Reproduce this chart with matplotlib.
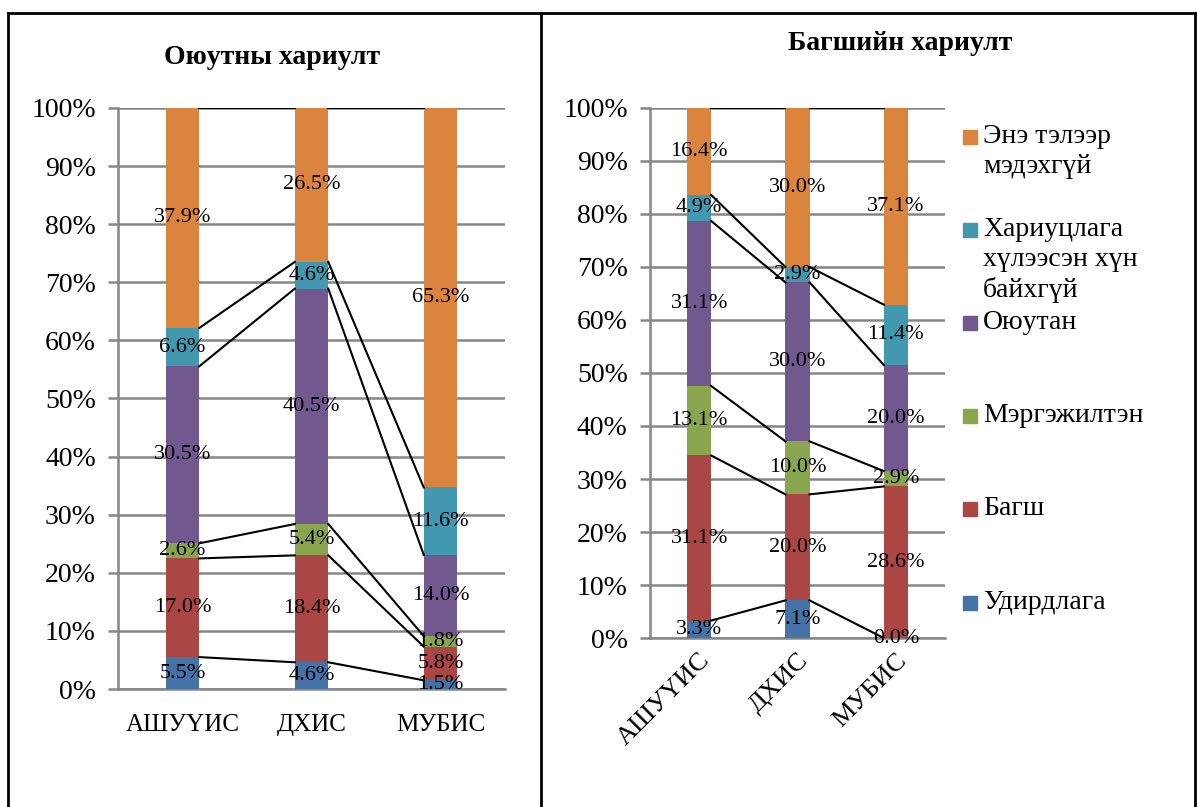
import numpy as np
import matplotlib
matplotlib.use("Agg")
import matplotlib.pyplot as plt
from matplotlib.lines import Line2D
from matplotlib.patches import Rectangle

plt.rcParams['font.family'] = ['Liberation Serif', 'DejaVu Serif']

# Ангилал
schools = ['АШУҮИС', 'ДХИС', 'МУБИС']
series = ['Удирдлага', 'Багш', 'Мэргэжилтэн', 'Оюутан',
          'Хариуцлага\nхүлээсэн хүн\nбайхгүй', 'Энэ тэлээр\nмэдэхгүй']
colors = ['#4572A7', '#AA4643', '#89A54E', '#71588F', '#4198AF', '#DB843D']

# Оюутны хариулт (%)
stud_udirdlaga = [5.5, 4.6, 1.5]
stud_bagsh = [17.0, 18.4, 5.8]
stud_mergejilten = [2.6, 5.4, 1.8]
stud_oyutan = [30.5, 40.5, 14.0]
stud_hariutslaga = [6.6, 4.6, 11.6]
stud_medehgui = [37.9, 26.5, 65.3]

# Багшийн хариулт (%)
teach_udirdlaga = [3.3, 7.1, 0.0]
teach_bagsh = [31.1, 20.0, 28.6]
teach_mergejilten = [13.1, 10.0, 2.9]
teach_oyutan = [31.1, 30.0, 20.0]
teach_hariutslaga = [4.9, 2.9, 11.4]
teach_medehgui = [16.4, 30.0, 37.1]

student = [stud_udirdlaga, stud_bagsh, stud_mergejilten, stud_oyutan,
           stud_hariutslaga, stud_medehgui]
teacher = [teach_udirdlaga, teach_bagsh, teach_mergejilten, teach_oyutan,
           teach_hariutslaga, teach_medehgui]

grid_c = '#868686'


def draw_stack(ax, data, width, label_fs):
    vals = np.array(data, dtype=float)
    pct = vals / vals.sum(axis=0) * 100  # 100% stacked
    x = np.arange(len(schools))
    bottom = np.zeros(len(schools))
    for i in range(len(series)):
        ax.bar(x, pct[i], width, bottom=bottom, color=colors[i], zorder=3)
        for j in range(len(schools)):
            ax.text(x[j], bottom[j] + pct[i][j] / 2, f'{vals[i][j]:.1f}%',
                    ha='center', va='center', fontsize=label_fs, zorder=5)
        bottom = bottom + pct[i]
        # series lines
        for j in range(len(schools) - 1):
            ax.plot([x[j] + width / 2, x[j + 1] - width / 2],
                    [bottom[j], bottom[j + 1]], color='black', lw=1.5, zorder=4)
    ax.set_xlim(-0.5, len(schools) - 0.5)
    ax.set_ylim(0, 100)
    ax.set_yticks(np.arange(0, 101, 10))
    ax.set_yticklabels([f'{v}%' for v in range(0, 101, 10)])
    ax.set_xticks(x)
    ax.yaxis.grid(True, color=grid_c, lw=1.8, zorder=0)
    ax.set_axisbelow(True)
    for s in ['top', 'right']:
        ax.spines[s].set_visible(False)
    for s in ['left', 'bottom']:
        ax.spines[s].set_color(grid_c)
        ax.spines[s].set_linewidth(1.8)
    ax.tick_params(axis='y', length=7, width=1.8, color=grid_c, labelsize=20, pad=9)
    ax.tick_params(axis='x', length=0, labelsize=18, pad=18)


fig = plt.figure(figsize=(11.97, 8.07), dpi=100)

ax1 = fig.add_axes([0.0986, 0.1462, 0.3233, 0.72])
draw_stack(ax1, student, 0.26, 16)
ax1.set_xticklabels(schools)

ax2 = fig.add_axes([0.543, 0.2094, 0.2465, 0.6568])
draw_stack(ax2, teacher, 0.245, 16)
ax2.set_xticklabels(schools, rotation=45, ha='right', va='top',
                    rotation_mode='anchor')
ax2.tick_params(axis='x', pad=8, labelsize=19)

fig.text(272 / 1197, 1 - 58 / 807, 'Оюутны хариулт', ha='center', va='center',
         fontsize=20, fontweight='bold')
fig.text(900 / 1197, 1 - 44 / 807, 'Багшийн хариулт', ha='center', va='center',
         fontsize=20, fontweight='bold')

# legend (top item first)
leg_y = [137, 230, 323, 416, 509, 603]
for k, yy in enumerate(leg_y):
    i = len(series) - 1 - k
    fig.add_artist(Rectangle((963 / 1197, 1 - (yy + 7) / 807), 14 / 1197, 14 / 807,
                             transform=fig.transFigure, color=colors[i]))
    fig.text(983 / 1197, 1 - (yy - 13) / 807, series[i], ha='left', va='top',
             fontsize=20, linespacing=1.25)

# frame
lw = 2
fig.add_artist(Line2D([8 / 1197, 8 / 1197], [0, 1 - 13 / 807], color='black', lw=lw))
fig.add_artist(Line2D([8 / 1197, 1195 / 1197], [1 - 13 / 807, 1 - 13 / 807], color='black', lw=lw))
fig.add_artist(Line2D([541 / 1197, 541 / 1197], [0, 1 - 13 / 807], color='black', lw=lw))
fig.add_artist(Line2D([1195 / 1197, 1195 / 1197], [0, 1 - 13 / 807], color='black', lw=lw))

fig.savefig('out.png', dpi=100)
